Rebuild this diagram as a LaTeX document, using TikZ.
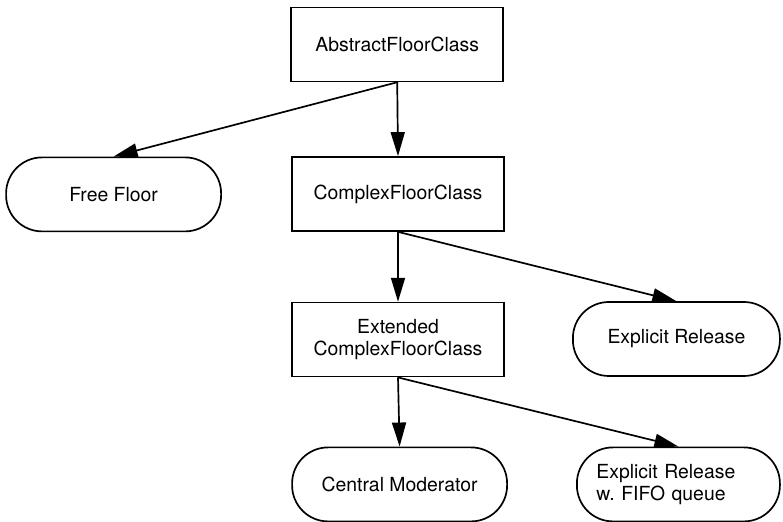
\documentclass[tikz,border=0pt]{standalone}
\usepackage{fontspec}
\setmainfont{TeX Gyre Heros}
\usetikzlibrary{arrows.meta}
\tikzset{
	classbox/.style={
			draw, line width=1.2pt, minimum width=5.3cm, minimum height=1.85cm,
			align=center, inner sep=0pt
		},
	floorbox/.style={
			draw, line width=1.2pt, rounded corners=0.9cm, minimum height=1.85cm,
			inner sep=0pt
		},
	inherit/.style={-{Triangle[length=0.6cm, width=0.35cm]}, line width=1.2pt}
}

\begin{document}
\begin{tikzpicture}[every node/.style={font=\fontsize{13.8}{15.4}\selectfont}]
        \useasboundingbox (0, 0) rectangle (19.575, 13.05);

        % Class hierarchy
        \node[classbox] (abstract) at (9.93, 11.94) {AbstractFloorClass};
        \node[classbox] (complex) at (9.95, 8.2) {ComplexFloorClass};
        \node[classbox] (extended) at (9.95, 4.56) {Extended\\ComplexFloorClass};

        % Floor control policies
        \node[floorbox, minimum width=5.375cm] (free) at (2.84, 8.19) {Free Floor};
        \node[floorbox, minimum width=5.175cm] (release) at (16.91, 4.575) {Explicit Release};
        \node[floorbox, minimum width=5.075cm, text width=4.1cm, align=left] (fifo) at (16.96, 0.94) {Explicit Release\\w.\ FIFO queue};
        \node[floorbox, minimum width=5.375cm] (moderator) at (9.99, 0.94) {Central Moderator};

        % Arrows
        \draw[inherit] (abstract.south) -- (complex.north);
        \draw[inherit] (abstract.south) -- (free.north);
        \draw[inherit] (complex.south) -- (extended.north);
        \draw[inherit] (complex.south) -- (release.north);
        \draw[inherit] (extended.south) -- (moderator.north);
        \draw[inherit] (extended.south) -- (fifo.north);

    \end{tikzpicture}
\end{document}
